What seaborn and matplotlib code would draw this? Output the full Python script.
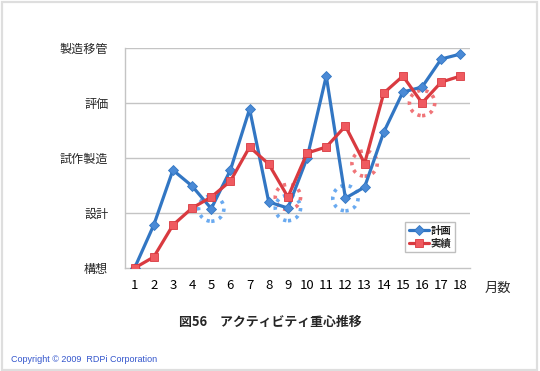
import matplotlib
matplotlib.use("Agg")
import matplotlib.pyplot as plt
import numpy as np
import pandas as pd
import seaborn as sns
from matplotlib.patches import Ellipse, Rectangle

# --- data ------------------------------------------------------------------
MONTHS = list(range(1, 19))
STAGES = ["構想", "設計", "試作製造", "評価", "製造移管"]
PLAN = [0.0, 0.78, 1.78, 1.49, 1.08, 1.78, 2.89, 1.2, 1.09, 2.0,
        3.49, 1.27, 1.47, 2.47, 3.2, 3.29, 3.8, 3.89]
ACTUAL = [0.0, 0.2, 0.78, 1.09, 1.29, 1.58, 2.2, 1.89, 1.29, 2.09,
          2.2, 2.58, 1.9, 3.18, 3.49, 3.0, 3.38, 3.49]
PLAN_MARKED = [5, 9, 12]
ACTUAL_MARKED = [9, 13, 16]

BLUE_LINE, BLUE_MARK, BLUE_RING = "#3276c3", "#4a8ad6", "#6aaaf0"
RED_LINE, RED_MARK, RED_RING = "#d93a40", "#ef5a60", "#f07478"

sns.set_style("white")
plt.rcParams["font.family"] = ["Noto Sans CJK JP", "DejaVu Sans"]

df = pd.DataFrame({"month": MONTHS, "計画": PLAN, "実績": ACTUAL})

fig = plt.figure(figsize=(5.4, 3.71), dpi=100)
ax = fig.add_axes([125 / 540, 1 - 268 / 371, 345 / 540, 220 / 371])

# frame around the whole picture
fig.patches.append(Rectangle((0.003, 0.004), 0.992, 0.99, transform=fig.transFigure,
                             fill=False, edgecolor="#dedede", linewidth=1.6))

for v in range(1, 5):
    ax.axhline(v, color="#c4c4c4", linewidth=1.0, zorder=0)

sns.lineplot(data=df, x="month", y="計画", ax=ax, color=BLUE_LINE, linewidth=2.3,
             marker="D", markersize=5.2, markerfacecolor=BLUE_MARK,
             markeredgecolor=BLUE_LINE, markeredgewidth=0.6, label="計画", zorder=3)
sns.lineplot(data=df, x="month", y="実績", ax=ax, color=RED_LINE, linewidth=2.3,
             marker="s", markersize=6.2, markerfacecolor=RED_MARK,
             markeredgecolor=RED_LINE, markeredgewidth=0.6, label="実績", zorder=4)

# dotted rings around the highlighted points
for months, vals, col in ((PLAN_MARKED, PLAN, BLUE_RING), (ACTUAL_MARKED, ACTUAL, RED_RING)):
    for m in months:
        ax.add_patch(Ellipse((m, vals[m - 1]), 1.32, 0.46, fill=False, edgecolor=col,
                             linewidth=2.6, linestyle=(0, (0.9, 1.4)), zorder=2))

ax.set_xlim(0.5, 18.5)
ax.set_ylim(0, 4)
ax.set_xticks(MONTHS)
ax.set_xticklabels([str(m) for m in MONTHS], fontsize=9.5)
ax.set_xticks(np.arange(0.5, 19, 1), minor=True)
ax.tick_params(axis="x", which="major", length=0, pad=8, colors="black")
ax.tick_params(axis="x", which="minor", length=4, width=1, color="#c4c4c4")
ax.set_yticks(range(5))
ax.set_yticklabels(STAGES, fontsize=8.7)
ax.tick_params(axis="y", length=3, width=1, color="#c4c4c4", pad=9)
ax.set_xlabel("")
ax.set_ylabel("")
for side in ("top", "right"):
    ax.spines[side].set_visible(False)
for side in ("left", "bottom"):
    ax.spines[side].set_color("#c4c4c4")
    ax.spines[side].set_linewidth(1.0)

leg = ax.legend(loc="upper left", bbox_to_anchor=(405 / 540, 1 - 222 / 371),
                bbox_transform=fig.transFigure, borderaxespad=0, frameon=True,
                fancybox=False, handlelength=2.0, handletextpad=0.1,
                borderpad=0.35, labelspacing=0.3, prop={"size": 7.5, "weight": "bold"})
leg.get_frame().set_edgecolor("#b0b0b0")
leg.get_frame().set_linewidth(1.0)

fig.text(498 / 540, 1 - 288 / 371, "月数", ha="center", va="center", fontsize=9.5)
fig.text(270 / 540, 1 - 322 / 371, "図56　アクティビティ重心推移", ha="center",
         va="center", fontsize=9.3, fontweight="bold")
fig.text(11 / 540, 1 - 359 / 371, "Copyright © 2009  RDPi Corporation", ha="left",
         va="center", fontsize=6.5, color="#3355cc", family="Liberation Sans")

fig.savefig("out.png", dpi=100)
